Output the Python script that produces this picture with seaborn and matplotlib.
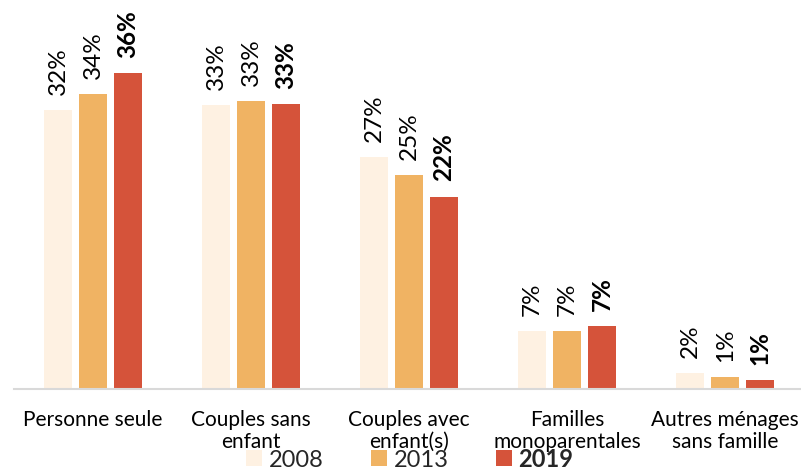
import matplotlib
matplotlib.use("Agg")
import matplotlib.pyplot as plt
from matplotlib.patches import Patch
import seaborn as sns
import pandas as pd

categories = ["Personne seule", "Couples sans\nenfant", "Couples avec\nenfant(s)",
              "Familles\nmonoparentales", "Autres ménages\nsans famille"]
years = ["2008", "2013", "2019"]
values_2008 = [32.0, 32.6, 26.6, 6.6, 1.8]
values_2013 = [33.9, 33.1, 24.6, 6.6, 1.3]
values_2019 = [36.3, 32.7, 22.1, 7.2, 1.0]
colors = ["#FEF1E2", "#F0B363", "#D5533A"]

sns.set_theme(style="white")
plt.rcParams["font.family"] = ["Lato", "DejaVu Sans"]

rows = []
for y, vals in zip(years, [values_2008, values_2013, values_2019]):
    for c, v in zip(categories, vals):
        rows.append({"cat": c, "year": y, "val": v})
df = pd.DataFrame(rows)

fig = plt.figure(figsize=(8.01, 4.69), dpi=100)
ax = fig.add_axes([14 / 801, 80.3 / 469, 787 / 801, 388.7 / 469])

sns.barplot(data=df, x="cat", y="val", hue="year", order=categories, hue_order=years,
            palette=dict(zip(years, colors)), width=0.665, gap=0.2, linewidth=0,
            saturation=1, ax=ax, legend=False)

for i, cont in enumerate(ax.containers):
    labels = [f"{b.get_height():.0f}%" for b in cont]
    ax.bar_label(cont, labels=labels, rotation=90, padding=11, fontsize=17.5,
                 fontweight="bold" if i == 2 else "normal", color="black")

ax.set_xlim(-0.5, 4.48)
ax.set_ylim(0, 44.7)
ax.set_xlabel("")
ax.set_ylabel("")
ax.set_yticks([])
ax.tick_params(axis="x", length=0, pad=15, labelsize=15, colors="black")
for t in ax.get_xticklabels():
    t.set_linespacing(1.15)
for s in ["left", "right", "top"]:
    ax.spines[s].set_visible(False)
ax.spines["bottom"].set_color("#D9D9D9")
ax.spines["bottom"].set_linewidth(1.5)

handles = [Patch(facecolor=c, edgecolor="none") for c in colors]
leg = fig.legend(handles, years, loc="center", bbox_to_anchor=(410 / 801, 10 / 469),
                 ncol=3, frameon=False, fontsize=17, handlelength=0.66,
                 handleheight=0.66, handletextpad=0.3, columnspacing=2.0,
                 borderpad=0, borderaxespad=0)
leg.get_texts()[2].set_fontweight("bold")

fig.savefig("out.png", dpi=100)
